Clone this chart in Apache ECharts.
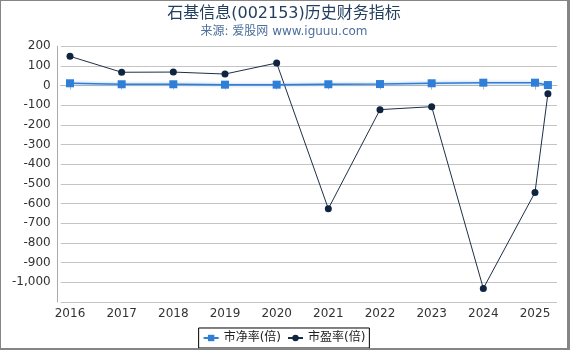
<!DOCTYPE html>
<html><head><meta charset="utf-8">
<script src="https://cdn.jsdelivr.net/npm/echarts@6/dist/echarts.min.js"></script>
<style>
html,body{margin:0;padding:0;background:#fff;}
#c{width:570px;height:350px;box-sizing:border-box;border-style:solid;border-color:#858585;border-width:1px 3px 2px 1px;}
</style></head>
<body><div id="c"></div>
<script>
var years = [2016, 2017, 2018, 2019, 2020, 2021, 2022, 2023, 2024, 2025, 2025.25];
var pb = [12, 7, 7, 5, 5, 7, 8, 12, 15, 15, 3];
var pe = [149, 68, 69, 59, 115, -626, -122, -107, -1031, -543, -41];
var xTicks = [2016, 2017, 2018, 2019, 2020, 2021, 2022, 2023, 2024, 2025];
var titleText = '石基信息(002153)历史财务指标';
var subText = '来源: 爱股网 www.iguuu.com';
var names = ['市净率(倍)', '市盈率(倍)'];

var font = 'DejaVu Sans, "Noto Sans CJK SC", sans-serif';
var chart = echarts.init(document.getElementById('c'));
function pairs(v){ return years.map(function(y,i){ return [y, v[i]]; }); }
chart.setOption({
  animation: false,
  textStyle: {fontFamily: font},
  title: {
    text: titleText, subtext: subText, left: 'center', top: 0, itemGap: 4,
    textStyle: {fontSize: 16, fontWeight: 'normal', color: '#233f5f', fontFamily: font},
    subtextStyle: {fontSize: 12, color: '#4d6f9b', fontFamily: font}
  },
  grid: {left: 59.7, right: 10, top: 45.3, bottom: 46},
  xAxis: {
    type: 'value', min: 2015.82, max: 2025.426,
    axisLine: {show: true, lineStyle: {color: '#b8b8b8'}},
    axisTick: {show: true, length: 4, customValues: xTicks, lineStyle: {color: '#b8b8b8'}},
    axisLabel: {customValues: xTicks, margin: 6, fontSize: 12, color: '#333', fontFamily: font,
      formatter: function(v){ return String(Math.round(v)); }},
    splitLine: {show: false}
  },
  yAxis: {
    type: 'value', min: -1100, max: 200, interval: 100, offset: 3,
    axisLine: {show: true, lineStyle: {color: '#aaaaaa'}},
    axisTick: {show: false},
    axisLabel: {showMinLabel: false, margin: 7, fontSize: 12, color: '#333', fontFamily: font,
      formatter: function(v){ return v.toLocaleString('en-US'); }},
    splitLine: {show: true, lineStyle: {color: '#c4c4c4', width: 1}}
  },
  legend: {
    bottom: 0, left: 'center',
    data: names,
    borderColor: '#000', borderWidth: 1, padding: [4, 4, 4, 4], itemGap: 6,
    itemWidth: 15, itemHeight: 8,
    textStyle: {fontSize: 12, color: '#222', fontFamily: font}
  },
  series: [
    {name: names[0], type: 'line', data: pairs(pb), symbol: 'rect', symbolSize: 8,
     itemStyle: {color: '#2f7ed8'},
     lineStyle: {color: '#2f7ed8', width: 1.5, shadowColor: 'rgba(47,126,216,0.55)', shadowBlur: 3},
     z: 3},
    {name: names[1], type: 'line', data: pairs(pe), symbol: 'circle', symbolSize: 7,
     itemStyle: {color: '#0e2440'},
     lineStyle: {color: '#1d2f47', width: 1}, z: 2}
  ]
});
</script></body></html>
